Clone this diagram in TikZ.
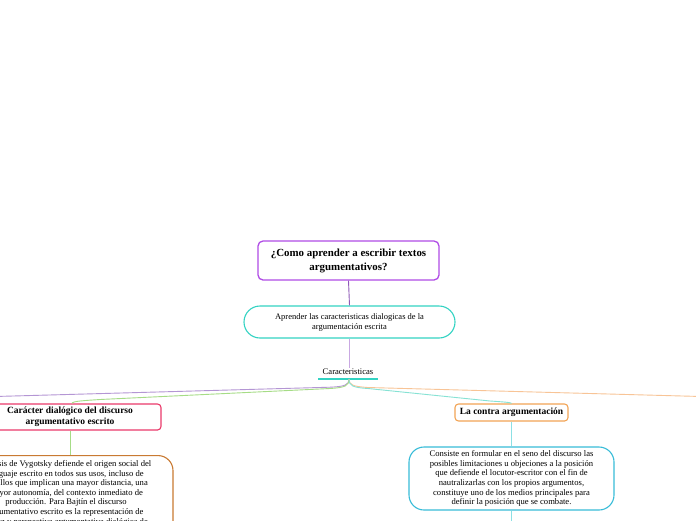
\documentclass[tikz,border=0pt]{standalone}
\usepackage{fontspec}
\setmainfont{Liberation Serif}
\definecolor{cPurple}{HTML}{B04CE6}
\definecolor{cPurpleLine}{HTML}{8E58B8}
\definecolor{cLilac}{HTML}{C9A8E2}
\definecolor{cTeal}{HTML}{33D3C3}
\definecolor{cPink}{HTML}{EA3A6A}
\definecolor{cBrown}{HTML}{C97A32}
\definecolor{cOrange}{HTML}{F2A455}
\definecolor{cCyan}{HTML}{38BCD8}
\definecolor{lPurple}{HTML}{B496D4}
\definecolor{lGreen}{HTML}{A6DC86}
\definecolor{lTeal}{HTML}{86E2D4}
\definecolor{lOrange}{HTML}{F8C496}
\definecolor{lCyan}{HTML}{8CE0E4}
\tikzset{
  x=1pt, y=-1pt,
  boxbase/.style={draw, align=center, inner sep=2pt, text=black},
  titlebox/.style={boxbase, draw=cPurple, line width=1.3pt, rounded corners=5pt,
     minimum width=181pt, minimum height=39pt, font=\bfseries\fontsize{10.9}{14}\selectfont},
  pillbox/.style={boxbase, line width=1.1pt, rounded corners=15pt,
     font=\fontsize{8.6}{9.6}\selectfont},
  headbox/.style={boxbase, line width=1.1pt, rounded corners=3.5pt,
     font=\bfseries\fontsize{9.5}{11}\selectfont},
  conn/.style={line width=0.9pt},
}
\begin{document}
\begin{tikzpicture}
\useasboundingbox (0,0) rectangle (696,520);
\clip (0,0) rectangle (696,520);
\fill[white] (0,0) rectangle (696,520);

% nodes
\node[titlebox] (title) at (348.5,260.5) {¿Como aprender a escribir textos\\argumentativos?};
\node[pillbox, draw=cTeal, minimum width=211pt, minimum height=32pt, rounded corners=16pt,
  font=\fontsize{8.5}{10}\selectfont]
  (apr) at (349.5,322) {Aprender las caracteristicas dialogicas de la\\argumentación escrita};
\node[inner sep=0pt, font=\fontsize{8.6}{9.6}\selectfont] (cara) at (348,371.5) {Caracteristicas};
\coordinate (ulL) at (318,379);
\coordinate (ulR) at (378,379);
\coordinate (hub) at (349,379);

\node[headbox, draw=cPink, minimum width=182pt, minimum height=26pt] (car) at (70,417)
  {Carácter dialógico del discurso\\argumentativo escrito};
\node[pillbox, draw=cBrown, anchor=north, minimum width=214pt, minimum height=0pt,
  inner xsep=2pt, inner ysep=4.8pt, align=center] (tes) at (66,455)
  {La tesis de Vygotsky defiende el origen social del\\
   lenguaje escrito en todos sus usos, incluso de\\
   aquellos que implican una mayor distancia, una\\
   mayor autonomía, del contexto inmediato de\\
   producción. Para Bajtín el discurso\\
   argumentativo escrito es la representación de\\
   la voz y perspectiva argumentativa dialógica de\\
   los otros};

\node[headbox, draw=cOrange, minimum width=113pt, minimum height=17pt]
  (con) at (511.5,412.5) {La contra argumentación};
\node[pillbox, draw=cCyan, minimum width=205pt, minimum height=63pt] (con2) at (511.5,478.5)
  {Consiste en formular en el seno del discurso las\\
   posibles limitaciones u objeciones a la posición\\
   que defiende el locutor-escritor con el fin de\\
   nautralizarlas con los propios argumentos,\\
   constituye uno de los medios principales para\\
   definir la posición que se combate.};

\coordinate (offL) at (-5,396.5);
\coordinate (offR) at (701,396.5);
\coordinate (offB) at (511.5,525);

% connectors
\draw[conn, cPurpleLine] (title.south) -- (apr.north);
\draw[conn, cLilac] (apr.south) -- (cara.north -| apr.south) ++(0,-3);
\draw[line width=1.2pt, cTeal] (ulL) -- (ulR);

\draw[conn, lPurple] (hub) .. controls (349,385) and (345,386.5) .. (330,387.2) -- (offL);
\draw[conn, lGreen] (hub) .. controls (349,386) and (345,387.5) .. (330,388.5)
   -- (100,399.5) .. controls (86,400.5) and (72,401) .. (car.north -| 72,0);
\draw[conn, lOrange] (hub) .. controls (349,385) and (353,386.5) .. (368,387.5) -- (offR);
\draw[conn, lTeal] (hub) .. controls (349,386) and (353,387.5) .. (368,388.5)
   -- (490,401) .. controls (505,402) and (511.5,402.5) .. (con.north);

\draw[conn, lGreen] (car.south) -- (car.south |- tes.north);
\draw[conn, lCyan] (con.south) -- (con2.north);
\draw[conn, lCyan] (con2.south) -- (offB);
\end{tikzpicture}
\end{document}
